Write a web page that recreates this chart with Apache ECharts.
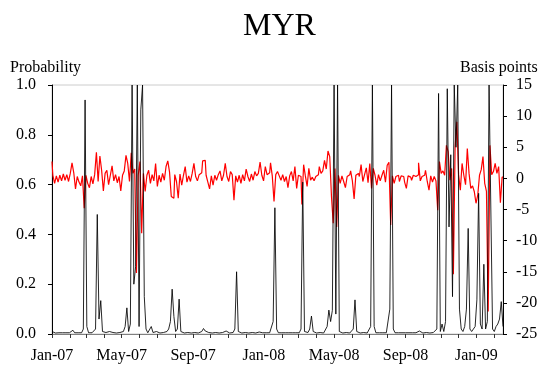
<!DOCTYPE html>
<html>
<head>
<meta charset="utf-8">
<script src="https://cdn.jsdelivr.net/npm/echarts@6/dist/echarts.min.js"></script>
<style>
html,body{margin:0;padding:0;background:#fff;}
#chart{width:547px;height:367px;}
</style>
</head>
<body>
<div id="chart"></div>
<script>
// Series sampled every 3 calendar days from 1 Jan 2007
const startDate = [2007, 0, 1];
const stepDays = 3;
const endDate = [2009, 1, 16];

const tickLabels = ['Jan-07','May-07','Sep-07','Jan-08','May-08','Sep-08','Jan-09'];

// Probability (left axis)
const probability = [
  0.01, 0.005, 0.004, 0.006, 0.005, 0.004, 0.005, 0.006, 0.005, 0.004,
  0.005, 0.006, 0.015, 0.005, 0.004, 0.005, 0.006, 0.005, 0.02, 0.94,
  0.03, 0.005, 0.004, 0.005, 0.006, 0.02, 0.48, 0.06, 0.134, 0.01,
  0.005, 0.006, 0.004, 0.01, 0.005, 0.006, 0.005, 0.004, 0.005, 0.006,
  0.005, 0.01, 0.03, 0.105, 0.01, 0.04, 1.0, 0.2, 0.27, 1.0,
  0.03, 0.9, 1.0, 0.15, 0.02, 0.005, 0.01, 0.03, 0.006, 0.005,
  0.01, 0.005, 0.004, 0.005, 0.006, 0.005, 0.01, 0.02, 0.05, 0.18,
  0.07, 0.01, 0.02, 0.14, 0.01, 0.005, 0.004, 0.005, 0.006, 0.005,
  0.004, 0.005, 0.006, 0.005, 0.004, 0.005, 0.01, 0.022, 0.012, 0.005,
  0.006, 0.005, 0.004, 0.005, 0.006, 0.005, 0.004, 0.005, 0.006, 0.008,
  0.012, 0.005, 0.004, 0.005, 0.006, 0.02, 0.25, 0.01, 0.005, 0.004,
  0.005, 0.006, 0.005, 0.004, 0.005, 0.006, 0.005, 0.004, 0.005, 0.008,
  0.016, 0.005, 0.004, 0.005, 0.006, 0.005, 0.01, 0.05, 0.507, 0.02,
  0.005, 0.004, 0.005, 0.006, 0.005, 0.004, 0.005, 0.006, 0.005, 0.004,
  0.005, 0.006, 0.005, 0.02, 0.61, 0.01, 0.005, 0.006, 0.02, 0.072,
  0.01, 0.005, 0.004, 0.005, 0.006, 0.005, 0.004, 0.01, 0.03, 0.096,
  0.05, 0.095, 1.0, 0.08, 1.0, 0.01, 0.005, 0.004, 0.005, 0.006,
  0.005, 0.004, 0.005, 0.02, 0.137, 0.01, 0.005, 0.004, 0.005, 0.006,
  0.005, 0.004, 0.005, 0.03, 1.0, 0.03, 0.005, 0.004, 0.005, 0.006,
  0.005, 0.004, 0.005, 0.01, 0.1, 1.0, 0.02, 0.005, 0.004, 0.005,
  0.006, 0.005, 0.004, 0.005, 0.006, 0.005, 0.004, 0.005, 0.006, 0.005,
  0.004, 0.012, 0.005, 0.004, 0.005, 0.006, 0.005, 0.004, 0.005, 0.006,
  0.005, 0.02, 0.966, 0.01, 0.04, 0.01, 0.05, 0.985, 0.43, 0.72,
  0.15, 1.0, 0.75, 1.0, 0.1, 0.02, 0.01, 0.03, 0.1, 0.424,
  0.02, 0.01, 0.005, 0.03, 0.137, 0.565, 0.04, 0.02, 0.28, 0.02,
  0.05, 1.0, 1.0, 0.02, 0.01, 0.03, 0.04, 0.06, 0.13, 0.03
];

// Basis points (right axis)
const basisPoints = [
  2.7, 0.5, -0.8, 0.4, -0.6, 0.5, -0.4, 0.7, -0.3, 0.6,
  -0.5, 0.8, 2.5, 0.9, -1.7, 0.3, -0.6, -1.2, 0.4, -4.8,
  0.5, -0.8, -1.5, 0.3, -0.9, 0.6, 4.2, -0.5, 3.6, 1.3,
  -2.0, 0.8, 1.3, -1.0, 0.5, 2.0, -0.4, 0.6, -0.7, 0.3,
  -2.0, 0.5, 1.2, 3.7, 2.4, -0.5, 4.1, 0.8, 1.5, -15.2,
  0.5, 2.7, -8.8, 0.8, -2.1, 0.5, 1.3, -0.8, 0.6, -0.4,
  2.4, -1.3, 0.5, -0.6, 0.8, -0.3, 1.9, 2.8, 1.0, -2.9,
  -3.2, 0.6, -0.5, -3.2, 0.7, -1.1, 0.5, 1.9, -0.6, 0.4,
  -0.5, 0.8, 2.4, 0.3, -0.4, 0.6, 0.9, 2.8, 2.9, 0.5,
  -0.6, -1.7, 0.4, -1.1, 0.5, -0.3, 0.6, 1.2, -0.4, 0.5,
  2.4, 0.3, -0.5, 1.1, 0.6, -3.5, 0.4, -0.6, 0.5, -0.8,
  0.6, -0.4, 1.5, 0.3, -0.5, 0.7, -0.3, 1.1, 0.4, 0.8,
  2.6, 0.5, -0.4, 1.9, 0.6, 0.9, 2.5, 0.4, -3.7, 0.6,
  1.1, 0.4, -0.3, 0.6, -0.5, 0.3, -1.5, 0.4, 1.1, -0.4,
  1.9, -1.6, 0.5, 0.3, -4.2, 2.2, 0.4, -1.3, 1.6, -0.3,
  0.2, -0.4, 0.3, 0.6, 1.9, 0.8, 1.2, 2.9, 1.5, 4.4,
  3.5, -2.9, -7.2, 1.6, -7.8, 0.5, -0.8, 0.4, -0.5, -1.5,
  0.3, 0.6, 1.2, -0.4, -3.3, 0.5, 0.8, 0.3, 2.2, -0.5,
  0.6, 1.7, -0.7, 2.4, -1.6, 1.6, 0.5, -1.1, 0.6, -0.4,
  0.5, 1.3, -0.6, 2.1, 2.6, -7.5, 0.4, -0.8, 0.3, 0.5,
  -0.5, 0.4, 0.3, -0.6, -1.6, 0.4, 0.2, -0.3, 0.5, 0.3,
  0.6, 2.5, -0.4, 0.3, 0.5, 1.3, -0.5, -1.9, 0.4, -0.6,
  0.3, -0.4, -5.1, 2.7, 0.8, 1.2, 0.5, 5.3, 4.3, -0.3,
  1.6, -15.4, 5.1, 9.1, 0.6, -1.9, 2.4, 0.5, -1.0, 4.8,
  0.8, -1.6, -1.2, -2.1, -4.0, -2.7, 0.5, 1.4, 3.5, -0.8,
  -2.1, -21.4, 5.3, 0.6, 1.1, 2.4, 0.8, 1.9, -3.9, 0.2
];

const DAY = 86400000;
const t0 = Date.UTC(startDate[0], startDate[1], startDate[2]);
const tEnd = Date.UTC(endDate[0], endDate[1], endDate[2]);
const probData = probability.map((v, i) => [t0 + i * stepDays * DAY, v]);
const bpData = basisPoints.map((v, i) => [t0 + i * stepDays * DAY, v]);

const serif = "'Liberation Serif','Times New Roman',serif";

const chart = echarts.init(document.getElementById('chart'), null, {renderer: 'canvas'});
chart.setOption({
  animation: false,
  useUTC: true,
  backgroundColor: '#fff',
  title: [
    {text: 'MYR', left: 238, top: 6, padding: 5, textStyle: {fontFamily: serif, fontSize: 32, fontWeight: 'normal', color: '#000'}},
    {text: 'Probability', left: 5, top: 55, padding: 5, textStyle: {fontFamily: serif, fontSize: 16, fontWeight: 'normal', color: '#000'}},
    {text: 'Basis points', left: 455, top: 55, padding: 5, textStyle: {fontFamily: serif, fontSize: 16, fontWeight: 'normal', color: '#000'}}
  ],
  grid: {left: 52, right: 44, top: 85, bottom: 33, show: true, borderColor: '#cccccc', borderWidth: 1, containLabel: false},
  xAxis: {
    type: 'time',
    min: t0,
    max: tEnd,
    minInterval: 28 * DAY,
    maxInterval: 31 * DAY,
    axisLine: {show: true, lineStyle: {color: '#808080', width: 1}},
    axisTick: {show: true, inside: false, length: 4, lineStyle: {color: '#333'}},
    splitLine: {show: false},
    axisLabel: {
      fontFamily: serif, fontSize: 16, color: '#000', margin: 14,
      hideOverlap: false,
      formatter: function (val) {
        const d = new Date(val);
        const months = (d.getUTCFullYear() - startDate[0]) * 12 + d.getUTCMonth();
        if (d.getUTCDate() !== 1 || months % 4 !== 0) return '';
        return tickLabels[months / 4] || '';
      }
    }
  },
  yAxis: [
    {
      type: 'value', position: 'left', min: 0, max: 1, interval: 0.2,
      axisLine: {show: true, lineStyle: {color: '#000', width: 1}},
      axisTick: {show: true, inside: false, length: 4, lineStyle: {color: '#000'}},
      splitLine: {show: false},
      axisLabel: {fontFamily: serif, fontSize: 16, color: '#000', margin: 16, formatter: v => v.toFixed(1)}
    },
    {
      type: 'value', position: 'right', min: -25, max: 15, interval: 5,
      axisLine: {show: true, lineStyle: {color: '#000', width: 1}},
      axisTick: {show: true, inside: false, length: 4, lineStyle: {color: '#000'}},
      splitLine: {show: false},
      axisLabel: {fontFamily: serif, fontSize: 16, color: '#000', margin: 13}
    }
  ],
  series: [
    {
      name: 'Basis points', type: 'line', yAxisIndex: 1, data: bpData,
      showSymbol: false, symbol: 'none', z: 2, step: 'middle',
      lineStyle: {color: '#ff0000', width: 1.2}
    },
    {
      name: 'Probability', type: 'line', yAxisIndex: 0, data: probData,
      showSymbol: false, symbol: 'none', z: 3,
      lineStyle: {color: '#000', width: 1, opacity: 0.85}
    }
  ]
});
</script>
</body>
</html>
